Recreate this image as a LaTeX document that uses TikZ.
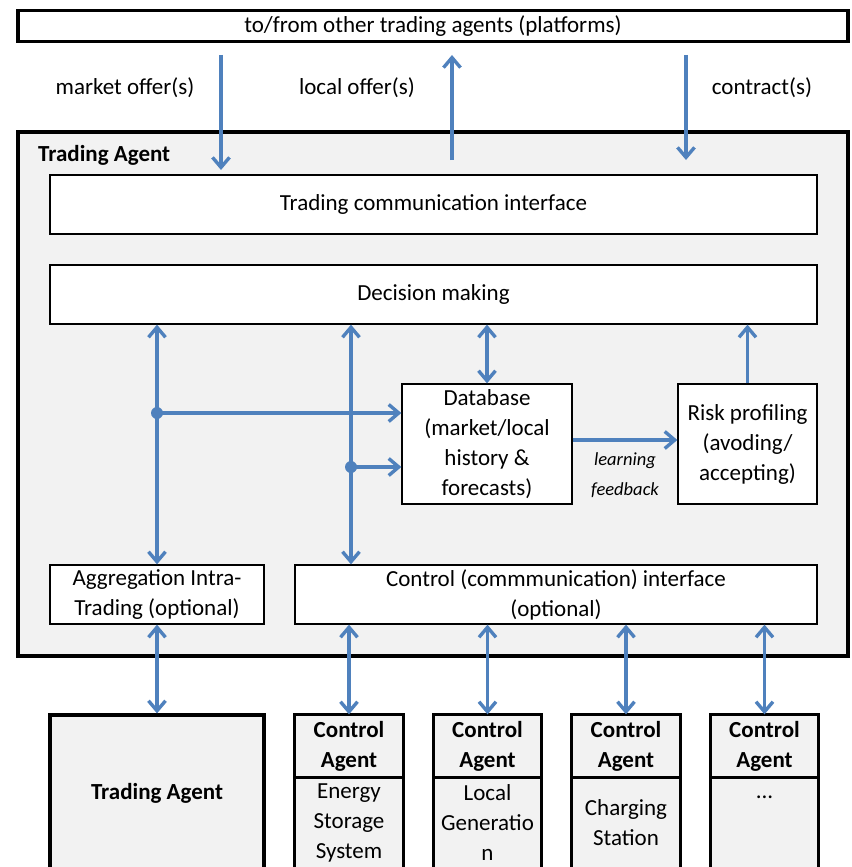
\documentclass[tikz,border=0pt]{standalone}
\usepackage{fontspec}
\setmainfont{Carlito}
\usetikzlibrary{arrows.meta,calc}
\definecolor{linkblue}{HTML}{4F81BD}
\definecolor{panel}{HTML}{F2F2F2}
\begin{document}
\begin{tikzpicture}[x=1pt,y=-1pt,
  every node/.style={font=\fontsize{23}{30}\selectfont},
  box/.style={draw=black, line width=1.3pt, fill=white, inner sep=0pt, align=center},
  thickbox/.style={draw=black, line width=3.2pt, inner sep=0pt, align=center},
  arr/.style={draw=linkblue, line width=3.4pt, -{Straight Barb[length=10pt,width=17pt]}},
  darr/.style={draw=linkblue, line width=3.4pt, {Straight Barb[length=10pt,width=17pt]}-{Straight Barb[length=10pt,width=17pt]}},
  lbl/.style={inner sep=0pt},
  boldlbl/.style={inner sep=0pt, align=center, font=\fontsize{23}{30}\selectfont\bfseries},
  fb/.style={inner sep=0pt, font=\fontsize{18.5}{29}\selectfont\itshape}
]
\useasboundingbox (0,0) rectangle (851,867);
\fill[white] (0,0) rectangle (851,867);

% outer platform strip
\node[thickbox, fill=white, minimum width=830pt, minimum height=31pt] (plat) at (433,26) {to/from other trading agents (platforms)};

% trading agent container
\node[thickbox, fill=panel, minimum width=830pt, minimum height=524pt] (ta) at (433,394) {};
\node[boldlbl, anchor=west] (talbl) at (38,155) {Trading Agent};

% inner blocks
\node[box, minimum width=767pt, minimum height=59pt] (tci) at (433.5,204.5) {Trading communication interface};
\node[box, minimum width=767pt, minimum height=59pt] (dm) at (433.5,294.5) {Decision making};
\node[box, minimum width=170pt, minimum height=120pt] (db) at (487,444) {Database\\(market/local\\history \&\\forecasts)};
\node[box, minimum width=139pt, minimum height=120pt] (risk) at (747.5,444) {Risk profiling\\(avoding/\\accepting)};
\node[box, minimum width=214pt, minimum height=59pt] (agg) at (157,594.5) {Aggregation Intra-\\Trading (optional)};
\node[box, minimum width=522pt, minimum height=59pt] (cci) at (556,594.5) {Control (commmunication) interface\\(optional)};

% message labels
\node[lbl] (lmo) at (125,88) {market offer(s)};
\node[lbl] (llo) at (357,88) {local offer(s)};
\node[lbl] (lct) at (762,88) {contract(s)};
\node[fb] (lfb1) at (625,461) {learning};
\node[fb] (lfb2) at (625,490) {feedback};

% free ends of the platform arrows
\coordinate (mo-a) at (221,55);
\coordinate (mo-b) at (221,170);
\coordinate (lo-a) at (452,160);
\coordinate (lo-b) at (452,55);
\coordinate (ct-a) at (686,55);
\coordinate (ct-b) at (686,160);
\draw[arr] (mo-a) -- (mo-b);
\draw[arr] (lo-a) -- (lo-b);
\draw[arr] (ct-a) -- (ct-b);

% internal links
\coordinate (v2) at (351,0);
\coordinate (j1) at (157,413);
\coordinate (j2) at (351,467);
\draw[darr] (dm.south -| agg) -- (agg.north);
\draw[darr] (dm.south -| v2) -- (cci.north -| v2);
\draw[darr] (dm.south -| db) -- (db.north);
\draw[arr] (risk.north) -- (dm.south -| risk);
\draw[arr] (db.east |- 0,440) -- (risk.west |- 0,440);
\draw[arr] (j1) -- (db.west |- j1);
\draw[arr] (j2) -- (db.west |- j2);
\fill[linkblue] (j1) circle (6pt);
\fill[linkblue] (j2) circle (6pt);

% lower agents
\node[thickbox, fill=panel, minimum width=214pt, minimum height=165pt] (ta2) at (157,797.5) {};
\node[boldlbl] (ta2lbl) at (157,793) {Trading Agent};

\foreach \n/\cx/\ty/\body in {ca1/349/823/{Energy\\Storage\\System}, ca2/487.5/823/{Local\\Generatio\\n}, ca3/626/823/{Charging\\Station}, ca4/764.5/797/{...}}{
  \node[draw=black, line width=1.3pt, fill=panel, minimum width=107pt, minimum height=62pt, inner sep=0pt, align=center, font=\fontsize{23}{30}\selectfont\bfseries] (\n-h) at (\cx,746) {Control\\Agent};
  \node[draw=black, line width=1.3pt, fill=panel, minimum width=107pt, minimum height=100pt, inner sep=0pt, anchor=north] (\n) at (\n-h.south) {};
  \node[lbl, align=center] (\n-t) at (\cx,\ty) {\body};
  \draw[line width=3.2pt] (\n-h.north west) rectangle (\n.south east);
}
\draw[darr] (agg.south) -- (ta2.north);
\draw[darr] (cci.south -| ca1-h) -- (ca1-h.north);
\draw[darr] (cci.south -| ca2-h) -- (ca2-h.north);
\draw[darr] (cci.south -| ca3-h) -- (ca3-h.north);
\draw[darr] (cci.south -| ca4-h) -- (ca4-h.north);
\end{tikzpicture}
\end{document}
